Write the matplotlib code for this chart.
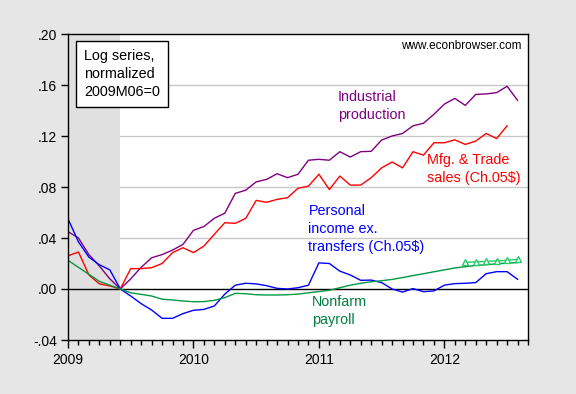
import matplotlib
matplotlib.use('Agg')
import matplotlib.pyplot as plt

plt.rcParams['font.family'] = ['Liberation Sans', 'DejaVu Sans']

# monthly data, 2009M01 .. 2012M08, log levels normalized 2009M06=0
industrial_production = [
    0.045, 0.040, 0.027, 0.018, 0.008, 0.000, 0.008, 0.017, 0.0245, 0.027, 0.0305, 0.035,
    0.046, 0.049, 0.0555, 0.0595, 0.075, 0.0775, 0.084, 0.086, 0.0904, 0.0873, 0.090, 0.101,
    0.1017, 0.101, 0.1077, 0.1035, 0.1077, 0.108, 0.1168, 0.120, 0.122, 0.128, 0.130, 0.137,
    0.145, 0.1495, 0.144, 0.1526, 0.153, 0.154, 0.159, 0.148,
]
mfg_trade_sales = [
    0.026, 0.029, 0.011, 0.004, 0.0024, 0.000, 0.016, 0.016, 0.0167, 0.020, 0.0285, 0.0324,
    0.0285, 0.0337, 0.0429, 0.052, 0.0515, 0.0554, 0.0695, 0.068, 0.0703, 0.0716, 0.079, 0.0807,
    0.090, 0.078, 0.0886, 0.0815, 0.0815, 0.0873, 0.095, 0.0996, 0.095, 0.1077, 0.105, 0.1147,
    0.1147, 0.117, 0.1134, 0.116, 0.122, 0.118, 0.128,
]
personal_income = [
    0.055, 0.037, 0.025, 0.019, 0.015, 0.000, -0.0055, -0.0115, -0.0165, -0.023, -0.023, -0.0193,
    -0.0167, -0.016, -0.0133, -0.004, 0.003, 0.0045, 0.004, 0.0026, 0.0005, 0.000, 0.001, 0.003,
    0.0205, 0.020, 0.014, 0.011, 0.0068, 0.007, 0.005, 0.000, -0.0024, 0.0003, -0.0021, -0.0015,
    0.003, 0.0042, 0.0045, 0.005, 0.012, 0.0136, 0.0136, 0.0076,
]
nonfarm_payroll = [
    0.0225, 0.017, 0.0115, 0.006, 0.003, 0.000, -0.003, -0.0042, -0.0055, -0.008, -0.0086, -0.0094,
    -0.010, -0.0099, -0.0089, -0.0068, -0.0034, -0.0037, -0.0045, -0.0047, -0.0047, -0.0045, -0.004, -0.003,
    -0.002, -0.001, 0.001, 0.003, 0.0045, 0.0057, 0.0065, 0.0075, 0.009, 0.0105, 0.012, 0.0135,
    0.015, 0.0165, 0.0175, 0.0185, 0.019, 0.0198, 0.0203, 0.0207,
]
# payroll, benchmark-revised estimate, 2012M03 .. 2012M08
payroll_bench_start = 38
payroll_bench = [0.021, 0.0212, 0.0217, 0.022, 0.0225, 0.0233]

recession = (0, 5)  # 2009M01 .. 2009M06
year_labels = ['2009', '2010', '2011', '2012']
y_ticks = [-0.04, 0.0, 0.04, 0.08, 0.12, 0.16, 0.20]
y_labels = ['-.04', '.00', '.04', '.08', '.12', '.16', '.20']

fs = 10.4
ls = 1.37

fig = plt.figure(figsize=(5.76, 3.94), dpi=100, facecolor='#e6e6e6')
ax = fig.add_axes([68 / 576, 1 - 340 / 394, 460 / 576, 306 / 394])
ax.set_facecolor('white')

for y in y_ticks[2:-1]:
    ax.axhline(y, color='#c8c8c8', lw=1, zorder=0)
ax.axvspan(*recession, color='#e0e0e0', lw=0, zorder=1)
ax.axhline(0, color='black', lw=1, zorder=2)

ax.plot(range(len(industrial_production)), industrial_production, color='#800080', lw=1, zorder=3)
ax.plot(range(len(mfg_trade_sales)), mfg_trade_sales, color='#ff0000', lw=1, zorder=3)
ax.plot(range(len(personal_income)), personal_income, color='#0000ff', lw=1, zorder=3)
ax.plot(range(len(nonfarm_payroll)), nonfarm_payroll, color='#009944', lw=1, zorder=3)
bx = range(payroll_bench_start, payroll_bench_start + len(payroll_bench))
ax.plot(bx, payroll_bench, color='#22cc66', lw=1, marker='^', ms=4.5,
        mfc='white', mec='#22cc66', mew=1, zorder=4)

ax.set_xlim(0, 44)
ax.set_ylim(-0.04, 0.20)
ax.set_yticks(y_ticks)
ax.set_yticklabels(y_labels, fontsize=10)
ax.set_xticks([0, 12, 24, 36])
ax.set_xticklabels(year_labels, fontsize=10)
ax.set_xticks(range(0, 45), minor=True)
ax.tick_params(axis='y', direction='out', length=5, width=1, pad=3)
ax.tick_params(axis='x', which='major', direction='out', length=6, width=1, pad=3)
ax.tick_params(axis='x', which='minor', direction='out', length=3.5, width=1)
for s in ax.spines.values():
    s.set_linewidth(1)
    s.set_zorder(5)

# labels
ax.text(0.035, 0.952, 'Log series,\nnormalized\n2009M06=0', transform=ax.transAxes,
        fontsize=fs, va='top', ha='left', linespacing=ls,
        bbox=dict(boxstyle='square,pad=0.55', fc='white', ec='black', lw=1), zorder=6)
ax.text(0.985, 0.96, 'www.econbrowser.com', transform=ax.transAxes,
        fontsize=8.5, ha='right', va='center')
ax.text(25.8, 0.156, 'Industrial\nproduction', color='#800080', fontsize=fs,
        va='top', linespacing=ls)
ax.text(34.3, 0.1066, 'Mfg. & Trade\nsales (Ch.05$)', color='#ff0000', fontsize=fs,
        va='top', linespacing=ls)
ax.text(23.0, 0.0666, 'Personal\nincome ex.\ntransfers (Ch.05$)', color='#0000ff', fontsize=fs,
        va='top', linespacing=ls)
ax.text(23.35, -0.0047, 'Nonfarm\npayroll', color='#008040', fontsize=fs,
        va='top', linespacing=ls)

plt.savefig('out.png', dpi=100, facecolor=fig.get_facecolor())
